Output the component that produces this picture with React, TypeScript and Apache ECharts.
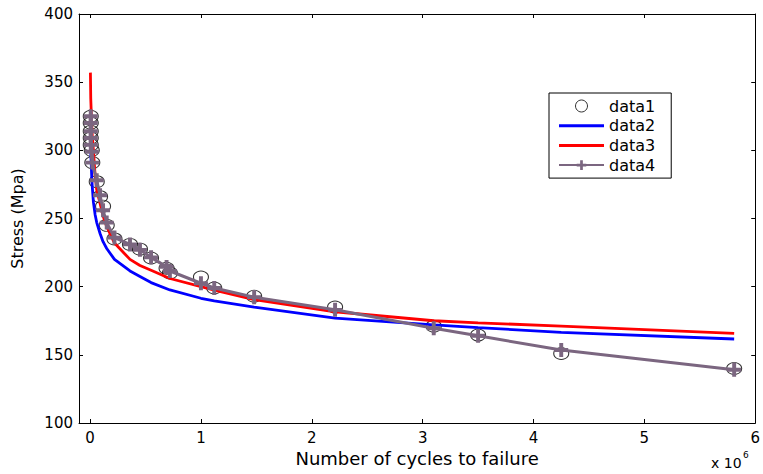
import React, { useEffect, useRef } from 'react';
import * as echarts from 'echarts';

// x values in units of 10^6 cycles
const data1X = [0.006, 0.006, 0.006, 0.006, 0.006, 0.015, 0.02, 0.06, 0.09, 0.117, 0.15, 0.22, 0.36, 0.45, 0.55, 0.69, 0.72, 1.0, 1.12, 1.48, 2.21, 3.1, 3.5, 4.25, 5.81];
const data1Y = [325, 320, 314, 309, 304, 300, 291, 277, 266, 259, 245, 235, 231, 227.5, 221, 213.5, 210, 207, 199, 193, 185, 171, 164.5, 151, 140];

const data4Y = [325, 320, 314, 309, 304, 299, 291, 278, 267, 256, 247, 236, 231, 227, 221.5, 214.5, 211.5, 202.5, 199, 192.3, 183, 169.5, 164, 153.5, 139];

const data2X = [0.006, 0.015, 0.02, 0.03, 0.045, 0.06, 0.09, 0.117, 0.15, 0.22, 0.36, 0.45, 0.55, 0.72, 1.0, 1.12, 1.48, 2.21, 3.1, 3.5, 4.25, 5.81];
const data2Y = [300, 280, 273, 262, 253, 247, 239, 233, 228, 220, 211.5, 207.5, 203, 197.6, 191.5, 189.5, 185, 177, 172, 170, 166.5, 161.6];

const data3X = [0.003, 0.006, 0.015, 0.02, 0.03, 0.045, 0.06, 0.09, 0.117, 0.15, 0.22, 0.36, 0.45, 0.55, 0.72, 1.0, 1.12, 1.48, 2.21, 3.1, 3.5, 4.25, 5.81];
const data3Y = [357, 338, 318, 310, 300, 282, 271, 261, 252, 244, 232, 220, 215.5, 212, 206, 200, 197.5, 190.5, 181.6, 175, 173.5, 171, 165.8];

const seriesNames = ['data1', 'data2', 'data3', 'data4'];
const xAxisName = 'Number of cycles to failure';
const yAxisName = 'Stress (Mpa)';

const PLUS = 'path://M3.6,0H6.4V3.6H10V6.4H6.4V10H3.6V6.4H0V3.6H3.6Z';
const LINE_ICON = 'path://M0,0H60V4H0Z';
const FONT = 'DejaVu Sans';
const PURPLE = '#7B6680';

const zip = (xs: number[], ys: number[]) => xs.map((x, i) => [x, ys[i]]);

export default function App() {
  const ref = useRef<HTMLDivElement>(null);
  useEffect(() => {
    if (!ref.current) return;
    const chart = echarts.init(ref.current, undefined, { renderer: 'svg' });
    const axisCommon = {
      axisLine: { show: true, onZero: false, lineStyle: { color: '#000', width: 1 } },
      axisTick: { show: true, inside: true, length: 4, lineStyle: { color: '#000', width: 1 } },
      splitLine: { show: false },
    };
    chart.setOption({
      animation: false,
      textStyle: { fontFamily: FONT },
      grid: { left: 79, right: 5, top: 14, bottom: 51, containLabel: false },
      xAxis: [
        {
          type: 'value', min: -0.1, max: 6, splitNumber: 6, position: 'bottom',
          ...axisCommon,
          axisLabel: { color: '#000', fontSize: 15, fontFamily: FONT, margin: 7, showMinLabel: false, showMaxLabel: true },
          name: xAxisName, nameLocation: 'middle', nameGap: 24,
          nameTextStyle: { color: '#000', fontSize: 18, fontFamily: FONT },
        },
        {
          type: 'value', min: -0.1, max: 6, splitNumber: 6, position: 'top',
          ...axisCommon,
          axisLabel: { show: false },
        },
      ],
      yAxis: [
        {
          type: 'value', min: 100, max: 400, interval: 50, position: 'left',
          ...axisCommon,
          axisLabel: { color: '#000', fontSize: 15, fontFamily: FONT, margin: 6 },
          name: yAxisName, nameLocation: 'middle', nameGap: 54,
          nameTextStyle: { color: '#000', fontSize: 16, fontFamily: FONT },
        },
        {
          type: 'value', min: 100, max: 400, interval: 50, position: 'right',
          ...axisCommon,
          axisLabel: { show: false },
        },
      ],
      legend: {
        orient: 'vertical',
        left: 549, top: 93,
        padding: [5, 16, 5, 9],
        itemWidth: 45, itemHeight: 12, itemGap: 3.7,
        borderColor: '#000', borderWidth: 1, backgroundColor: '#fff',
        textStyle: { color: '#000', fontSize: 16, lineHeight: 14, fontFamily: FONT },
        data: [
          { name: seriesNames[0], icon: 'circle', itemStyle: { color: 'rgba(0,0,0,0)', borderColor: '#000', borderWidth: 1 } },
          { name: seriesNames[1], icon: LINE_ICON, itemStyle: { color: '#0000ff', borderWidth: 0 } },
          { name: seriesNames[2], icon: LINE_ICON, itemStyle: { color: '#ff0000', borderWidth: 0 } },
          { name: seriesNames[3] },
        ],
      },
      graphic: [
        { type: 'text', x: 711, y: 463, style: { text: 'x 10', font: `14px "${FONT}"`, fill: '#000', verticalAlign: 'middle' } },
        { type: 'text', x: 743, y: 455, style: { text: '6', font: `9px "${FONT}"`, fill: '#000', verticalAlign: 'middle' } },
      ],
      series: [
        {
          name: seriesNames[0], type: 'scatter', data: zip(data1X, data1Y),
          symbol: 'circle', symbolSize: [15, 12],
          itemStyle: { color: 'rgba(0,0,0,0)', borderColor: '#000', borderWidth: 1 },
          z: 2,
        },
        {
          name: seriesNames[1], type: 'line', data: zip(data2X, data2Y),
          symbol: 'none', showSymbol: false,
          lineStyle: { color: '#0000ff', width: 2.8 }, itemStyle: { color: '#0000ff' },
          z: 3,
        },
        {
          name: seriesNames[2], type: 'line', data: zip(data3X, data3Y),
          symbol: 'none', showSymbol: false,
          lineStyle: { color: '#ff0000', width: 2.8 }, itemStyle: { color: '#ff0000' },
          z: 4,
        },
        {
          name: seriesNames[3], type: 'line', data: zip(data1X, data4Y),
          symbol: PLUS, symbolSize: 14, showSymbol: true,
          lineStyle: { color: PURPLE, width: 3 }, itemStyle: { color: PURPLE },
          z: 5,
        },
      ],
    });
    return () => chart.dispose();
  }, []);
  return <div ref={ref} style={{ position: 'absolute', left: 0, top: 0, width: 763, height: 474 }} />;
}
